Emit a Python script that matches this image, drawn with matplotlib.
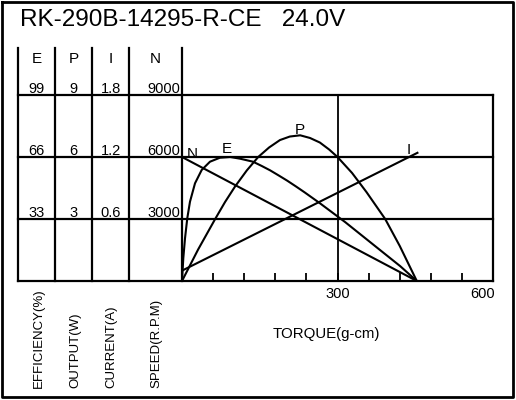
import matplotlib
matplotlib.use("Agg")
import matplotlib.pyplot as plt

plt.rcParams["font.family"] = ["Liberation Sans", "DejaVu Sans"]

# curve data (torque in g-cm)
speed_torque = [0, 453]
speed_rpm = [6000, 0]

current_torque = [0, 456]
current_a = [0.10, 1.245]

eff_torque = [0, 2.5, 5.8, 10.2, 15.4, 25.1, 38, 54, 73, 93, 112, 137,
              154, 170, 187, 203, 220, 237, 266, 299, 315, 382, 421, 453]
eff_pct = [0, 12.1, 22.7, 33.4, 42.2, 52.0, 59.1, 63.5, 65.6, 66.0, 65.1, 63.5,
           61.2, 58.9, 56.1, 53.4, 50.3, 47.1, 41.4, 34.6, 31.3, 16.5, 7.9, 0]

out_torque = [0, 31, 64, 83, 102, 125, 147, 168, 189, 208, 228, 247,
              266, 284, 300, 328, 356, 392, 420, 453]
out_w = [0, 1.52, 3.0, 3.82, 4.56, 5.35, 6.0, 6.46, 6.82, 6.99, 7.05, 6.92,
         6.70, 6.36, 6.0, 5.23, 4.3, 3.0, 1.7, 0]

col_heads = ["E", "P", "I", "N"]
col_rows = [["99", "9", "1.8", "9000"],
            ["66", "6", "1.2", "6000"],
            ["33", "3", "0.6", "3000"]]
col_units = ["EFFICIENCY(%)", "OUTPUT(W)", "CURRENT(A)", "SPEED(R.P.M)"]
title = "RK-290B-14295-R-CE   24.0V"

# layout in pixels
W, H = 516, 400
X0, X1 = 182, 493
Y0, Y1 = 281, 95
col_x = [18, 55, 92, 129, X0]
row_y = [95, 157, 219]
LW = 1.6

fig = plt.figure(figsize=(W / 100, H / 100), dpi=100)
lay = fig.add_axes([0, 0, 1, 1])
lay.set_xlim(0, W)
lay.set_ylim(H, 0)
lay.axis("off")

# outer frame
lay.plot([2, 513, 513, 2, 2], [2, 2, 397, 397, 2], color="black", lw=2.0)

# table + grid
for x in col_x:
    lay.plot([x, x], [48, Y0], color="black", lw=LW)
for y in row_y + [Y0]:
    lay.plot([col_x[0], X1], [y, y], color="black", lw=LW)
lay.plot([X1, X1], [Y1, Y0], color="black", lw=LW)
lay.plot([337.5, 337.5], [Y1, Y0], color="black", lw=1.3)

lay.text(20, 26, title, fontsize=17.5, va="baseline", ha="left")

centers = [36.5, 73.5, 110.5]
for i, head in enumerate(col_heads):
    cx = centers[i] if i < 3 else 155.5
    lay.text(cx, 63, head, fontsize=11, ha="center", va="baseline")
for r, row in enumerate(col_rows):
    base = row_y[r] - 2
    for i, val in enumerate(row):
        if i < 3:
            lay.text(centers[i], base, val, fontsize=10.5, ha="center", va="baseline")
        else:
            lay.text(180, base, val, fontsize=10.5, ha="right", va="baseline")

unit_x = [38.5, 75, 111.5, 156.5]
for ux, lab in zip(unit_x, col_units):
    lay.text(ux, 388, lab, fontsize=9.5, rotation=90, ha="center", va="bottom")

lay.text(326, 338, "TORQUE(g-cm)", fontsize=10.8, ha="center", va="baseline")

# data axes, one per quantity sharing the same box
pos = [X0 / W, 1 - Y0 / H, (X1 - X0) / W, (Y0 - Y1) / H]
ax_n = fig.add_axes(pos)
ax_n.patch.set_visible(False)
ax_n.set_xlim(0, 600)
ax_n.set_ylim(0, 9000)
for s in ax_n.spines.values():
    s.set_visible(False)
ax_n.set_yticks([])
ax_n.set_xticks(range(60, 600, 60))
ax_n.tick_params(axis="x", direction="in", length=6, width=1.3,
                 labelbottom=False, bottom=True)
ax_n.text(300, -0.03, "300", transform=ax_n.get_xaxis_transform(),
          fontsize=10.5, ha="center", va="top")
ax_n.text(603, -0.03, "600", transform=ax_n.get_xaxis_transform(),
          fontsize=10.5, ha="right", va="top")

ax_e = ax_n.twinx()
ax_p = ax_n.twinx()
ax_i = ax_n.twinx()
for ax, top in [(ax_e, 99), (ax_p, 9), (ax_i, 1.8)]:
    ax.set_ylim(0, top)
    ax.set_yticks([])
    ax.patch.set_visible(False)
    for s in ax.spines.values():
        s.set_visible(False)

kw = dict(color="black", lw=1.5, clip_on=False, solid_capstyle="butt",
          solid_joinstyle="round")
ax_n.plot(speed_torque, speed_rpm, **kw)
ax_i.plot(current_torque, current_a, **kw)
ax_e.plot(eff_torque, eff_pct, **kw)
ax_p.plot(out_torque, out_w, **kw)

# curve labels
lay.text(192, 158, "N", fontsize=11, ha="center", va="baseline")
lay.text(227, 153, "E", fontsize=11, ha="center", va="baseline")
lay.text(300, 134, "P", fontsize=11, ha="center", va="baseline")
lay.text(409, 154, "I", fontsize=11, ha="center", va="baseline")

fig.savefig("out.png", dpi=100, facecolor="white")
